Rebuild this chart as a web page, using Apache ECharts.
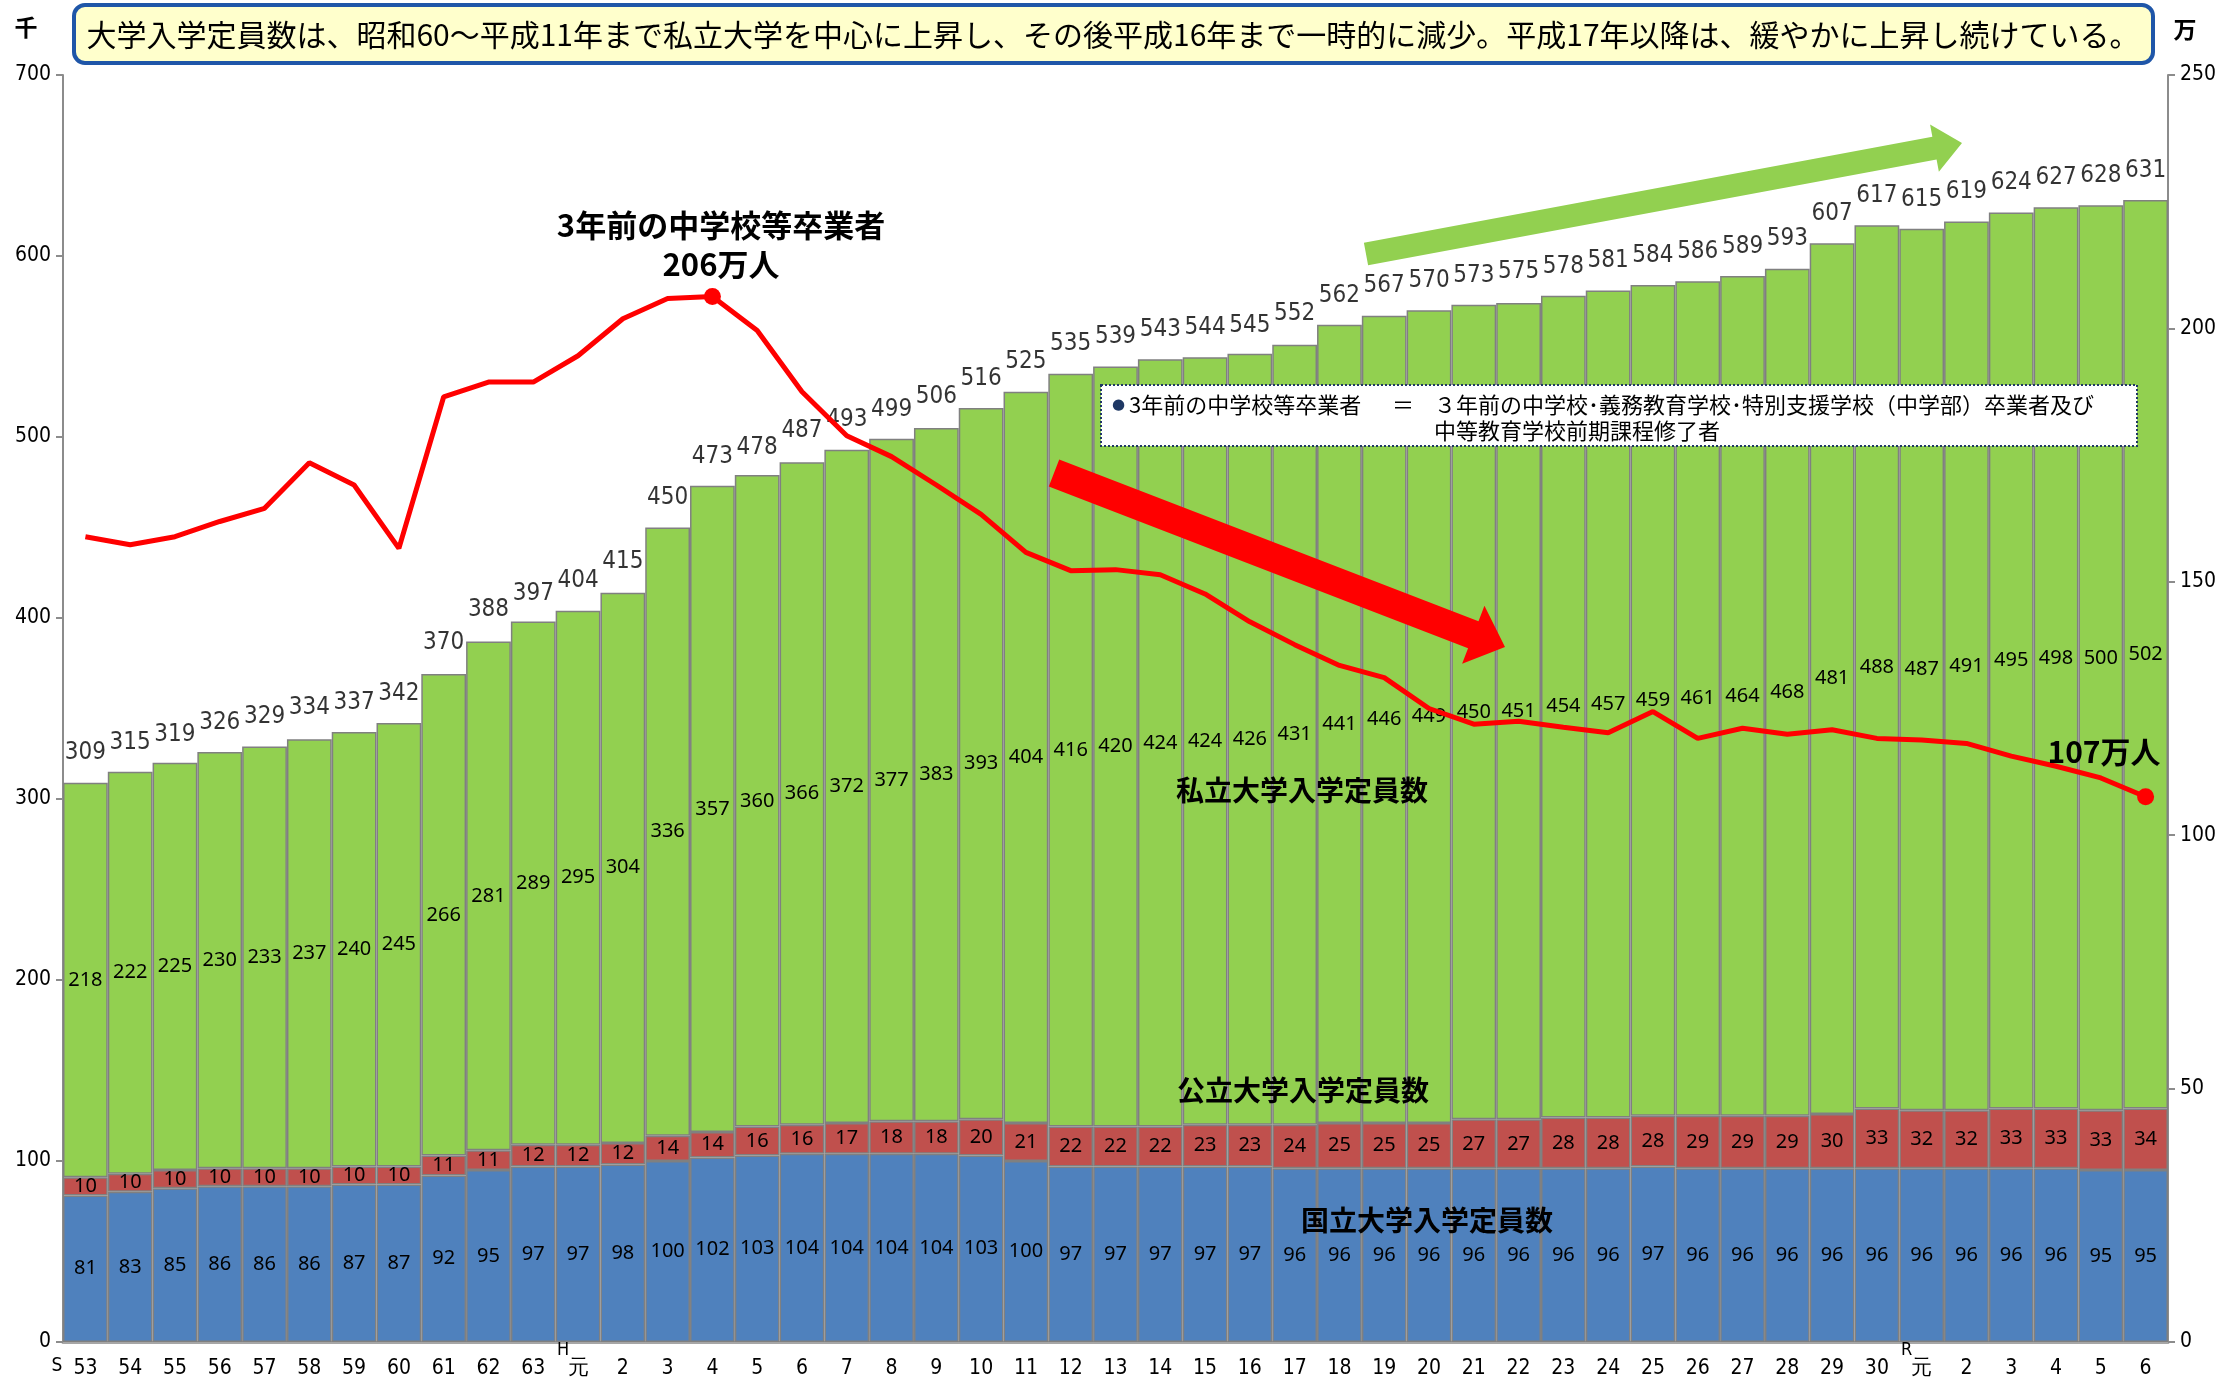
<!DOCTYPE html>
<html><head><meta charset="utf-8">
<script src="https://cdn.jsdelivr.net/npm/echarts@6/dist/echarts.min.js"></script>
<style>html,body{margin:0;padding:0;background:#fff}#c{width:2234px;height:1383px}</style>
</head><body><div id="c"></div>
<script>
// ---- data ----
const categories = ['S53','S54','S55','S56','S57','S58','S59','S60','S61','S62','S63',
 'H1','H2','H3','H4','H5','H6','H7','H8','H9','H10','H11','H12','H13','H14','H15','H16','H17','H18','H19','H20',
 'H21','H22','H23','H24','H25','H26','H27','H28','H29','H30','R1','R2','R3','R4','R5','R6'];
// 国立大学入学定員数（千人）
const national = [81,83,85,86,86,86,87,87,92,95,97,
 97,98,100,102,103,104,104,104,104,103,100,97,97,97,97,97,96,96,96,96,
 96,96,96,96,97,96,96,96,96,96,96,96,96,96,95,95];
// 公立大学入学定員数（千人）
const publicU = [10,10,10,10,10,10,10,10,11,11,12,
 12,12,14,14,16,16,17,18,18,20,21,22,22,22,23,23,24,25,25,25,
 27,27,28,28,28,29,29,29,30,33,32,32,33,33,33,34];
// 私立大学入学定員数（千人）
const privateU = [218,222,225,230,233,237,240,245,266,281,289,
 295,304,336,357,360,366,372,377,383,393,404,416,420,424,424,426,431,441,446,449,
 450,451,454,457,459,461,464,468,481,488,487,491,495,498,500,502];
// 大学入学定員数 合計（千人, 表示値）
const totalLabels = [309,315,319,326,329,334,337,342,370,388,397,
 404,415,450,473,478,487,493,499,506,516,525,535,539,543,544,545,552,562,567,570,
 573,575,578,581,584,586,589,593,607,617,615,619,624,627,628,631];
// 3年前の中学校等卒業者（万人）
const graduates = [158.9,157.3,158.9,161.9,164.5,173.5,169.1,156.6,186.5,189.4,189.4,
 194.6,201.9,205.9,206.3,199.6,187.5,178.8,174.7,169.1,163.3,155.8,152.2,152.4,151.4,147.6,142.1,137.6,133.5,131.1,125.0,
 121.9,122.5,121.3,120.2,124.4,119.1,121.1,119.9,120.8,119.1,118.8,118.1,115.6,113.6,111.3,107.6];
const leftTicks = {min:0, max:700, interval:100};
const rightTicks = {min:0, max:250, interval:50};
const markedPoints = [14, 46];

// ---- helpers ----
const NARROW = "'Liberation Sans Narrow','DejaVu Sans Condensed','Arial Narrow',sans-serif";
const SANS = "'Noto Sans','DejaVu Sans',sans-serif";
const JP = "'Noto Sans CJK JP','Noto Sans CJK SC',sans-serif";

function xLabel(v){
  const era = v[0], n = v.slice(1);
  if (v === 'S53') return '{e| }\n{s|S}{n|53}{p| }';
  if (n === '1' && era !== 'S') return '{h|' + era + '}\n{n|元}';
  return '{e| }\n{n|' + n + '}';
}
function arrowPts(x1,y1,x2,y2,sw,hw,hl){
  const dx=x2-x1, dy=y2-y1, L=Math.hypot(dx,dy), ux=dx/L, uy=dy/L, px=-uy, py=ux;
  const bx=x2-ux*hl, by=y2-uy*hl;
  return [[x1+px*sw/2,y1+py*sw/2],[bx+px*sw/2,by+py*sw/2],[bx+px*hw/2,by+py*hw/2],[x2,y2],
          [bx-px*hw/2,by-py*hw/2],[bx-px*sw/2,by-py*sw/2],[x1-px*sw/2,y1-py*sw/2]];
}
const inLabel = {show:true, position:'inside', color:'#000', fontFamily:SANS, fontSize:20};
const barBorder = {borderColor:'#808080', borderWidth:1.5};

const chart = echarts.init(document.getElementById('c'), null, {renderer:'canvas'});
chart.setOption({
  animation:false,
  backgroundColor:'#fff',
  grid:{left:63, right:66, top:75, bottom:41, containLabel:false},
  xAxis:{type:'category', data:categories, boundaryGap:true,
    axisLine:{show:true, lineStyle:{color:'#a6a6a6', width:3}},
    axisTick:{show:false},
    axisLabel:{interval:0, margin:1, formatter:xLabel, color:'#000',
      rich:{
        e:{fontSize:15, lineHeight:14, fontFamily:NARROW},
        h:{fontSize:18, lineHeight:14, fontFamily:NARROW, padding:[0,30,0,0], color:'#000'},
        n:{fontSize:21, lineHeight:24, fontFamily:NARROW, color:'#000'},
        s:{fontSize:19, lineHeight:22, fontFamily:NARROW, width:22, align:'left', verticalAlign:'top', color:'#000'},
        p:{fontSize:19, width:22}
      }}
  },
  yAxis:[
    {type:'value', min:leftTicks.min, max:leftTicks.max, interval:leftTicks.interval, position:'left',
     axisLine:{show:true, lineStyle:{color:'#8c8c8c', width:2}},
     axisTick:{show:true, length:7, lineStyle:{color:'#8c8c8c', width:2}},
     axisLabel:{color:'#000', fontSize:21, fontFamily:NARROW, margin:12},
     splitLine:{show:false}},
    {type:'value', min:rightTicks.min, max:rightTicks.max, interval:rightTicks.interval, position:'right',
     axisLine:{show:true, lineStyle:{color:'#8c8c8c', width:2}},
     axisTick:{show:true, length:7, lineStyle:{color:'#8c8c8c', width:2}},
     axisLabel:{color:'#000', fontSize:21, fontFamily:NARROW, margin:12},
     splitLine:{show:false}}
  ],
  series:[
    {name:'国立大学入学定員数', type:'bar', stack:'u', data:national, barCategoryGap:'0%',
     itemStyle:Object.assign({color:'#4F81BD'}, barBorder), label:inLabel, z:2},
    {name:'公立大学入学定員数', type:'bar', stack:'u', data:publicU,
     itemStyle:Object.assign({color:'#C0504D'}, barBorder), label:inLabel, z:2},
    {name:'私立大学入学定員数', type:'bar', stack:'u', data:privateU,
     itemStyle:Object.assign({color:'#92D050'}, barBorder), label:inLabel, z:2},
    {name:'合計', type:'scatter', data:totalLabels, symbolSize:1, itemStyle:{color:'rgba(0,0,0,0)'},
     label:{show:true, position:'top', distance:17, color:'#000', fontFamily:NARROW, fontSize:24}, z:3},
    {name:'3年前の中学校等卒業者', type:'line', yAxisIndex:1, data:graduates, showAllSymbol:true,
     symbol:'circle', symbolSize:(v,p)=> markedPoints.indexOf(p.dataIndex)>=0 ? 17 : 0,
     itemStyle:{color:'#FF0000'}, lineStyle:{color:'#FF0000', width:5}, z:5}
  ],
  graphic:[
    {type:'rect', shape:{x:74, y:5, width:2079, height:58, r:11}, style:{fill:'#FFFFCC', stroke:'#1F56A8', lineWidth:4}, z:10},
    {type:'text', x:1113, y:35, style:{text:'大学入学定員数は、昭和60～平成11年まで私立大学を中心に上昇し、その後平成16年まで一時的に減少。平成17年以降は、緩やかに上昇し続けている。',
      font:'30px ' + JP, fill:'#000', textAlign:'center', textVerticalAlign:'middle', align:'center', verticalAlign:'middle'}, z:11},
    {type:'text', x:26, y:27, style:{text:'千', font:'bold 23px ' + JP, fill:'#000', align:'center', verticalAlign:'middle'}, z:11},
    {type:'text', x:2185, y:29, style:{text:'万', font:'bold 23px ' + JP, fill:'#000', align:'center', verticalAlign:'middle'}, z:11},
    {type:'polygon', shape:{points:arrowPts(1366,254,1962,143,23,48,28)}, style:{fill:'#92D050'}, z:12},
    {type:'polygon', shape:{points:arrowPts(1054,473,1505,647,29,62,34)}, style:{fill:'#FF0000'}, z:12},
    {type:'text', x:721, y:225, style:{text:'3年前の中学校等卒業者', font:'bold 31px ' + JP, fill:'#000', align:'center', verticalAlign:'middle'}, z:12},
    {type:'text', x:721, y:264, style:{text:'206万人', font:'bold 31px ' + JP, fill:'#000', align:'center', verticalAlign:'middle'}, z:12},
    {type:'text', x:2104, y:752, style:{text:'107万人', font:'bold 30px ' + JP, fill:'#000', align:'center', verticalAlign:'middle'}, z:12},
    {type:'text', x:1302, y:790, style:{text:'私立大学入学定員数', font:'bold 28px ' + JP, fill:'#000', align:'center', verticalAlign:'middle'}, z:12},
    {type:'text', x:1303, y:1090, style:{text:'公立大学入学定員数', font:'bold 28px ' + JP, fill:'#000', align:'center', verticalAlign:'middle'}, z:12},
    {type:'text', x:1427, y:1220, style:{text:'国立大学入学定員数', font:'bold 28px ' + JP, fill:'#000', align:'center', verticalAlign:'middle'}, z:12},
    {type:'rect', shape:{x:1101, y:385, width:1036, height:61}, style:{fill:'#fff', stroke:'#1F3864', lineWidth:2, lineDash:[2,2]}, z:12},
    {type:'text', x:1112, y:405, style:{text:'●', font:'15px ' + SANS, fill:'#1F3864', align:'left', verticalAlign:'middle'}, z:13},
    {type:'text', x:1129, y:405, style:{text:'3年前の中学校等卒業者', font:'22px ' + JP, fill:'#000', align:'left', verticalAlign:'middle'}, z:13},
    {type:'text', x:1403, y:405, style:{text:'＝', font:'22px ' + JP, fill:'#000', align:'center', verticalAlign:'middle'}, z:13},
    {type:'text', x:1434, y:405, style:{text:'３年前の中学校･義務教育学校･特別支援学校（中学部）卒業者及び', font:'22px ' + JP, fill:'#000', align:'left', verticalAlign:'middle'}, z:13},
    {type:'text', x:1434, y:431, style:{text:'中等教育学校前期課程修了者', font:'22px ' + JP, fill:'#000', align:'left', verticalAlign:'middle'}, z:13}
  ]
});
</script>
</body></html>
